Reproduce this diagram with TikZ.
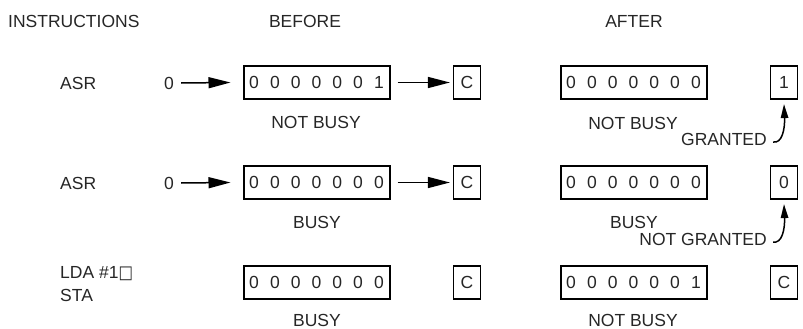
\documentclass[tikz,border=0pt]{standalone}
\usepackage{fontspec}
\usepackage{graphicx}
\setmainfont{Liberation Sans}
\newfontfamily\symfont{DejaVu Sans}
\usetikzlibrary{arrows.meta}
\newcommand\regbits[7]{\makebox[20.8pt]{#1}\makebox[20.8pt]{#2}\makebox[20.8pt]{#3}\makebox[20.8pt]{#4}\makebox[20.8pt]{#5}\makebox[20.8pt]{#6}\makebox[20.8pt]{#7}}
\tikzset{
  lbl/.style={font=\fontsize{17.5pt}{20pt}\selectfont, inner sep=0pt, text=black!85},
  reg/.style={draw, line width=2pt, minimum width=146pt, minimum height=33pt, inner sep=0pt, font=\fontsize{17.5pt}{20pt}\selectfont, text=black!85},
  cbox/.style={draw, line width=1.2pt, minimum width=27pt, minimum height=33pt, inner sep=0pt, font=\fontsize{17.5pt}{20pt}\selectfont, text=black!85},
  shiftarrow/.style={line width=1.5pt, -{Triangle[length=22pt,width=11pt]}},
  hookarrow/.style={line width=1.5pt, -{Triangle[length=14pt,width=7.5pt]}},
}
\begin{document}
\begin{tikzpicture}[x=1pt,y=-1pt]
\useasboundingbox (0,0) rectangle (803,329);
% headers
\node[lbl, anchor=west] (hins) at (8,21) {INSTRUCTIONS};
\node[lbl] (hbef) at (305,21) {BEFORE};
\node[lbl] (haft) at (634,21) {AFTER};
% row 1
\node[lbl, anchor=west] (i1) at (60,83) {ASR};
\node[lbl] (z1) at (169,83) {0};
\node[reg] (b1) at (316.5,82.5) {\regbits0000001};
\node[cbox] (c1) at (467,82.5) {C};
\node[lbl] (s1) at (316,122) {NOT BUSY};
\node[reg] (a1) at (633.5,82.5) {\regbits0000000};
\node[cbox] (r1) at (784,82.5) {1};
\node[lbl] (t1) at (633,123) {NOT BUSY};
\node[lbl, anchor=east] (g1) at (767,139) {GRANTED};
\draw[shiftarrow] ([xshift=7pt]z1.east) -- ([xshift=-12pt]b1.west);
\draw[shiftarrow] ([xshift=7pt]b1.east) -- ([xshift=-3pt]c1.west);
\draw[hookarrow] ([xshift=6pt,yshift=-3pt]g1.east) .. controls +(9,2) and +(1,25) .. ([yshift=-4.5pt]r1.south);
% row 2
\node[lbl, anchor=west] (i2) at (60,183) {ASR};
\node[lbl] (z2) at (169,183) {0};
\node[reg] (b2) at (316.5,182.5) {\regbits0000000};
\node[cbox] (c2) at (467,182.5) {C};
\node[lbl] (s2) at (317,222) {BUSY};
\node[reg] (a2) at (633.5,182.5) {\regbits0000000};
\node[cbox] (r2) at (784,182.5) {0};
\node[lbl] (t2) at (634,222) {BUSY};
\node[lbl, anchor=east] (g2) at (767,239) {NOT GRANTED};
\draw[shiftarrow] ([xshift=7pt]z2.east) -- ([xshift=-12pt]b2.west);
\draw[shiftarrow] ([xshift=7pt]b2.east) -- ([xshift=-3pt]c2.west);
\draw[hookarrow] ([xshift=6pt,yshift=-3pt]g2.east) .. controls +(9,2) and +(1,25) .. ([yshift=-4.5pt]r2.south);
% row 3
\node[lbl, anchor=west] (i3) at (60,273.5) {LDA \#1\scalebox{0.85}[1]{\symfont\fontsize{18pt}{20pt}\selectfont □}};
\node[lbl, anchor=west] (i4) at (60,295.5) {STA};
\node[reg] (b3) at (316.5,282.5) {\regbits0000000};
\node[cbox] (c3) at (467,282.5) {C};
\node[lbl] (s3) at (317,320) {BUSY};
\node[reg] (a3) at (633.5,282.5) {\regbits0000001};
\node[cbox] (r3) at (784,282.5) {C};
\node[lbl] (t3) at (633,320) {NOT BUSY};
\end{tikzpicture}
\end{document}
